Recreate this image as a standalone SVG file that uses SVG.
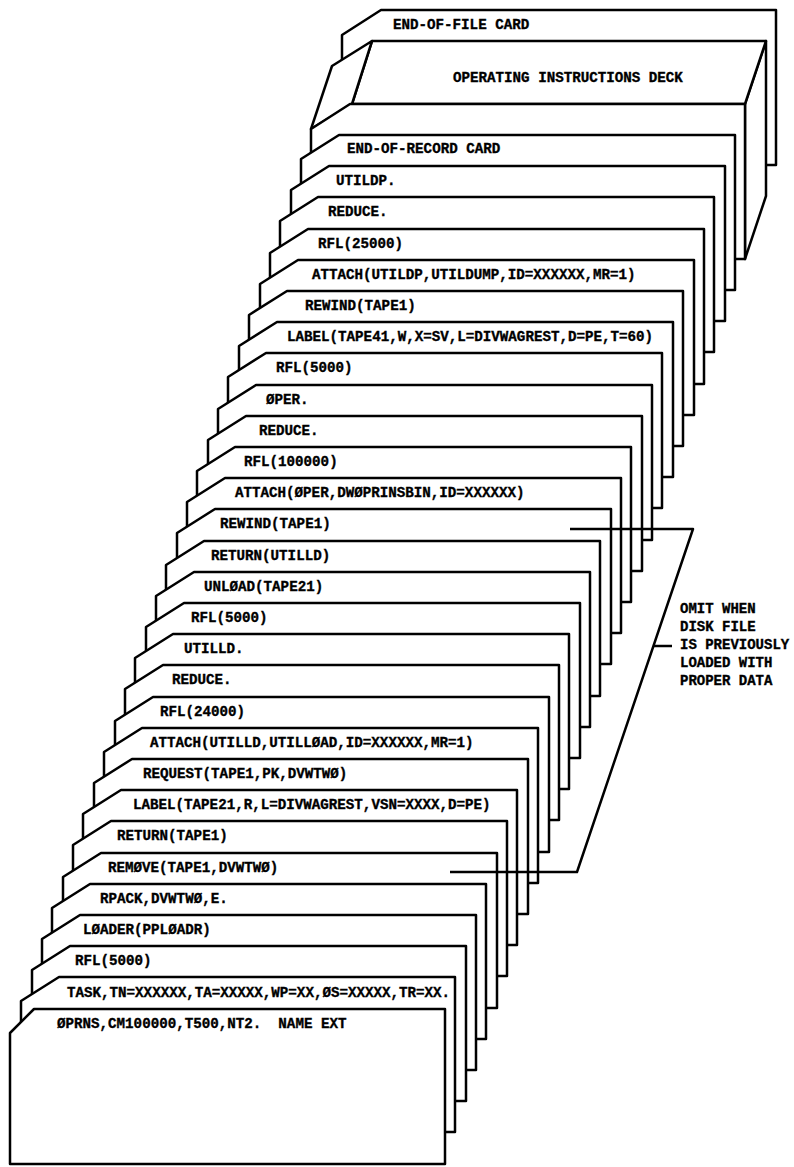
<svg xmlns="http://www.w3.org/2000/svg" width="794" height="1167" viewBox="0 0 794 1167">
<style>
.c{fill:#fff;stroke:#000;stroke-width:2.5;stroke-linejoin:round}
.t{font-family:"Liberation Mono","DejaVu Sans Mono",monospace;font-weight:bold;font-size:14.2px;fill:#000;stroke:#000;stroke-width:0.35;white-space:pre}
.n{font-family:"Liberation Mono","DejaVu Sans Mono",monospace;font-weight:bold;font-size:14px;fill:#000;stroke:#000;stroke-width:0.35}
.ln{fill:none;stroke:#000;stroke-width:2.5;stroke-linejoin:round}
</style>
<rect width="794" height="1167" fill="#fff"/>
<g id="eof-card"><path class="c" d="M342,165 L342,35 L381,10 L776,10 L776,165 Z"/><text class="t" x="393" y="29">END-OF-FILE CARD</text></g>
<g id="operating-instructions-deck">
<path class="c" d="M766,41 L766,196 L745,259 L745,104 Z"/>
<path class="c" d="M372,41 L766,41 L745,104 L352,104 Z"/>
<path class="c" d="M372,41 L352,104 L311,129 L332,66 Z"/>
<path class="c" d="M311,259 L311,129 L350,104 L745,104 L745,259 Z"/>
<text class="t" x="453" y="82">OPERATING INSTRUCTIONS DECK</text>
</g>
<g id="card00"><path class="c" d="M301,290 L301,159 L339,135 L735,135 L735,290 Z"/><text class="t" x="347" y="153">END-OF-RECORD CARD</text></g>
<g id="card01"><path class="c" d="M291,321 L291,190 L329,166 L725,166 L725,321 Z"/><text class="t" x="336" y="185">UTILDP.</text></g>
<g id="card02"><path class="c" d="M280,352 L280,221 L318,197 L714,197 L714,352 Z"/><text class="t" x="328" y="216">REDUCE.</text></g>
<g id="card03"><path class="c" d="M270,384 L270,253 L308,229 L704,229 L704,384 Z"/><text class="t" x="318" y="248">RFL(25000)</text></g>
<g id="card04"><path class="c" d="M260,415 L260,284 L298,260 L694,260 L694,415 Z"/><text class="t" x="312" y="279">ATTACH(UTILDP,UTILDUMP,ID=XXXXXX,MR=1)</text></g>
<g id="card05"><path class="c" d="M249,446 L249,315 L287,291 L683,291 L683,446 Z"/><text class="t" x="305" y="310">REWIND(TAPE1)</text></g>
<g id="card06"><path class="c" d="M239,477 L239,346 L277,322 L673,322 L673,477 Z"/><text class="t" x="287" y="341">LABEL(TAPE41,W,X=SV,L=DIVWAGREST,D=PE,T=60)</text></g>
<g id="card07"><path class="c" d="M228,508 L228,377 L266,353 L662,353 L662,508 Z"/><text class="t" x="276" y="372">RFL(5000)</text></g>
<g id="card08"><path class="c" d="M218,540 L218,409 L256,385 L652,385 L652,540 Z"/><text class="t" x="266" y="404">ØPER.</text></g>
<g id="card09"><path class="c" d="M208,571 L208,440 L246,416 L642,416 L642,571 Z"/><text class="t" x="259" y="435">REDUCE.</text></g>
<g id="card10"><path class="c" d="M197,602 L197,471 L235,447 L631,447 L631,602 Z"/><text class="t" x="244" y="466">RFL(100000)</text></g>
<g id="card11"><path class="c" d="M187,633 L187,502 L225,478 L621,478 L621,633 Z"/><text class="t" x="235" y="497">ATTACH(ØPER,DWØPRINSBIN,ID=XXXXXX)</text></g>
<g id="card12"><path class="c" d="M177,664 L177,533 L215,509 L611,509 L611,664 Z"/><text class="t" x="220" y="528">REWIND(TAPE1)</text></g>
<g id="card13"><path class="c" d="M166,696 L166,565 L204,541 L600,541 L600,696 Z"/><text class="t" x="211" y="560">RETURN(UTILLD)</text></g>
<g id="card14"><path class="c" d="M156,727 L156,596 L194,572 L590,572 L590,727 Z"/><text class="t" x="204" y="591">UNLØAD(TAPE21)</text></g>
<g id="card15"><path class="c" d="M146,758 L146,627 L184,603 L580,603 L580,758 Z"/><text class="t" x="191" y="622">RFL(5000)</text></g>
<g id="card16"><path class="c" d="M135,789 L135,658 L173,634 L569,634 L569,789 Z"/><text class="t" x="184" y="653">UTILLD.</text></g>
<g id="card17"><path class="c" d="M125,820 L125,689 L163,665 L559,665 L559,820 Z"/><text class="t" x="172" y="684">REDUCE.</text></g>
<g id="card18"><path class="c" d="M115,852 L115,721 L153,697 L549,697 L549,852 Z"/><text class="t" x="160" y="716">RFL(24000)</text></g>
<g id="card19"><path class="c" d="M104,883 L104,752 L142,728 L538,728 L538,883 Z"/><text class="t" x="150" y="747">ATTACH(UTILLD,UTILLØAD,ID=XXXXXX,MR=1)</text></g>
<g id="card20"><path class="c" d="M94,914 L94,783 L132,759 L528,759 L528,914 Z"/><text class="t" x="143" y="778">REQUEST(TAPE1,PK,DVWTWØ)</text></g>
<g id="card21"><path class="c" d="M83,945 L83,814 L121,790 L517,790 L517,945 Z"/><text class="t" x="133" y="809">LABEL(TAPE21,R,L=DIVWAGREST,VSN=XXXX,D=PE)</text></g>
<g id="card22"><path class="c" d="M73,976 L73,845 L111,821 L507,821 L507,976 Z"/><text class="t" x="117" y="840">RETURN(TAPE1)</text></g>
<g id="card23"><path class="c" d="M63,1008 L63,877 L101,853 L497,853 L497,1008 Z"/><text class="t" x="108" y="872">REMØVE(TAPE1,DVWTWØ)</text></g>
<g id="card24"><path class="c" d="M52,1039 L52,908 L90,884 L486,884 L486,1039 Z"/><text class="t" x="100" y="903">RPACK,DVWTWØ,E.</text></g>
<g id="card25"><path class="c" d="M42,1070 L42,939 L80,915 L476,915 L476,1070 Z"/><text class="t" x="83" y="934">LØADER(PPLØADR)</text></g>
<g id="card26"><path class="c" d="M32,1101 L32,970 L70,946 L466,946 L466,1101 Z"/><text class="t" x="75" y="965">RFL(5000)</text></g>
<g id="card27"><path class="c" d="M21,1132 L21,1001 L59,977 L455,977 L455,1132 Z"/><text class="t" x="67" y="997">TASK,TN=XXXXXX,TA=XXXXX,WP=XX,ØS=XXXXX,TR=XX.</text></g>
<g id="card28"><path class="c" d="M10,1164 L10,1033 L34,1009 L445,1009 L445,1164 Z"/><text class="t" x="57" y="1028">ØPRNS,CM100000,T500,NT2.  NAME EXT</text></g>
<g id="connectors">
<path class="ln" d="M570,529 L693,529 L577,872 L450,872"/>
<path class="ln" d="M654,646 L672,646"/>
</g>
<g id="omit-note">
<text class="n" x="680" y="613">OMIT WHEN</text>
<text class="n" x="680" y="631">DISK FILE</text>
<text class="n" x="680" y="649">IS PREVIOUSLY</text>
<text class="n" x="680" y="667">LOADED WITH</text>
<text class="n" x="680" y="685">PROPER DATA</text>
</g>
</svg>
